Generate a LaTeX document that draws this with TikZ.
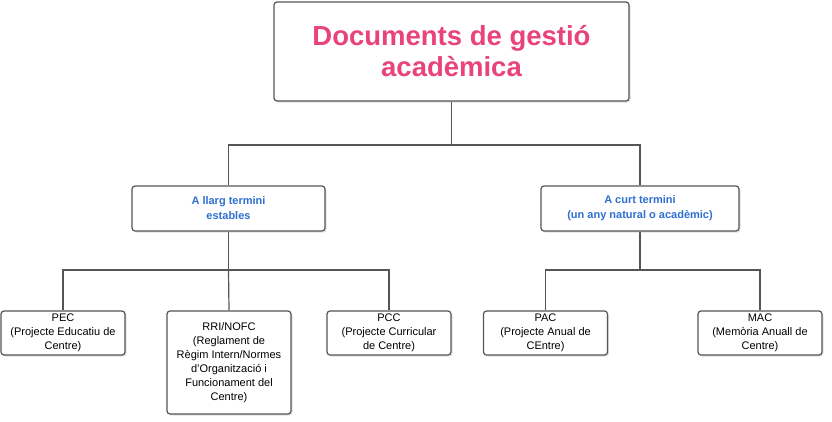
\documentclass[tikz,border=0pt]{standalone}
\usepackage{fontspec}
\setmainfont{Liberation Sans}
\usetikzlibrary{shadows,backgrounds}
\definecolor{titlepink}{HTML}{E8437B}
\definecolor{headblue}{HTML}{2F6FD0}
\definecolor{boxgray}{HTML}{555555}
\tikzset{
  docbox/.style={draw=boxgray, line width=1.2pt, rounded corners=3pt, fill=white,
    drop shadow={opacity=0.25, shadow xshift=1.5pt, shadow yshift=-1.5pt},
    align=center, inner sep=2pt},
  link/.style={draw=boxgray, line width=1.2pt}
}
\begin{document}
\begin{tikzpicture}[x=1pt,y=-1pt]
    \useasboundingbox (0,0) rectangle (832,421);

    % top box
    \node[docbox, minimum width=355pt, minimum height=99pt,
      font=\fontsize{27.5}{31}\selectfont\bfseries, text=titlepink] (top) at (451.5,51.5)
      {Documents de gestió\\acadèmica};

    % two time groups
    \node[docbox, minimum width=193pt, minimum height=45pt,
      font=\fontsize{11}{15}\selectfont\bfseries, text=headblue] (llarg) at (228.5,208.5)
      {A llarg termini\\estables};
    \node[docbox, minimum width=198pt, minimum height=45pt,
      font=\fontsize{11}{15}\selectfont\bfseries, text=headblue] (curt) at (640,208.5)
      {A curt termini\\(un any natural o acadèmic)};

    % documents
    \tikzset{leaf/.style={docbox, minimum width=124pt,
      font=\fontsize{11}{14}\selectfont}}
    \node[leaf, minimum height=44pt] (pec) at (63,333) {PEC\\(Projecte Educatiu de\\Centre)};
    \node[leaf, minimum height=103pt] (rri) at (229,362.5)
      {RRI/NOFC\\(Reglament de\\Règim Intern/Normes\\d'Organització i\\Funcionament del\\Centre)};
    \node[leaf, minimum height=44pt] (pcc) at (389,333) {PCC\\(Projecte Curricular\\de Centre)};
    \node[leaf, minimum height=44pt] (pac) at (545.5,333) {PAC\\(Projecte Anual de\\CEntre)};
    \node[leaf, minimum height=44pt] (mac) at (760,333) {MAC\\(Memòria Anuall de\\Centre)};

    % connectors
    \begin{scope}[on background layer]
    \coordinate (topj) at (451.5,145);
    \coordinate (llargj) at (228.5,270);
    \coordinate (curtj) at (640,270);
    \draw[link] (top.south) -- (topj);
    \draw[link] (topj) -| (llarg.north);
    \draw[link] (topj) -| (curt.north);
    \draw[link] (llarg.south) -- (llargj);
    \draw[link] (llargj) -| (pec.north);
    \draw[link] (llargj) -- (rri.north);
    \draw[link] (llargj) -| (pcc.north);
    \draw[link] (curt.south) -- (curtj);
    \draw[link] (curtj) -| (pac.north);
    \draw[link] (curtj) -| (mac.north);
    \end{scope}
\end{tikzpicture}
\end{document}
